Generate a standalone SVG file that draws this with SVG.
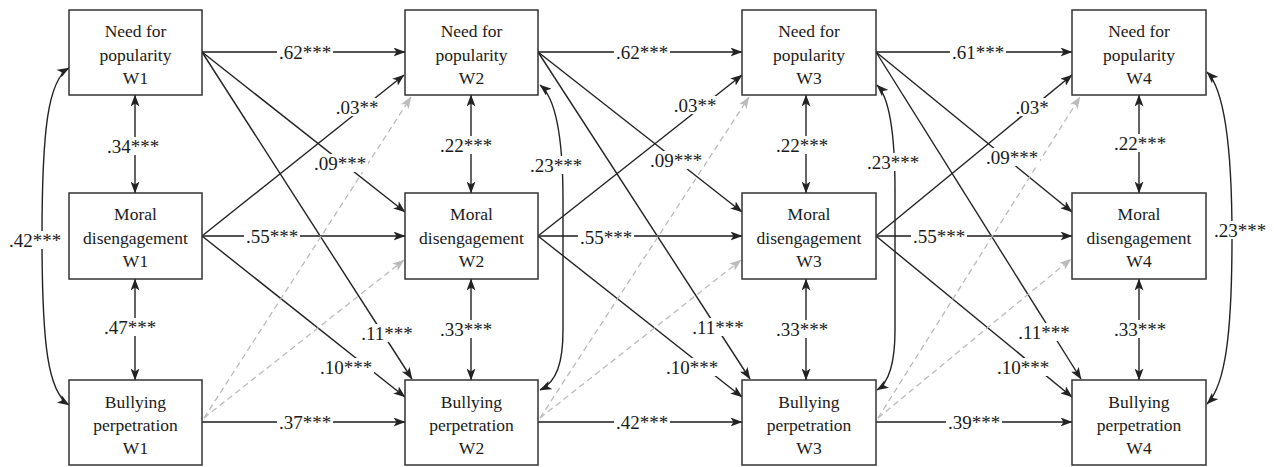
<svg xmlns="http://www.w3.org/2000/svg" width="1274" height="467" viewBox="0 0 1274 467" font-family="'Liberation Serif', 'DejaVu Serif', serif">
<style>
.box{fill:#fff;stroke:#333;stroke-width:1.5}
.nt{font-size:17.5px;fill:#1a1a1a;text-anchor:middle}
.s{fill:none;stroke:#222;stroke-width:1.4;marker-end:url(#ah)}
.h{fill:none;stroke:#555;stroke-width:2;marker-end:url(#ah)}
.d{fill:none;stroke:#bbb;stroke-width:1.3;stroke-dasharray:6 4;marker-end:url(#ag)}
.b{fill:none;stroke:#222;stroke-width:1.4;marker-start:url(#ah);marker-end:url(#ah)}
.lr{fill:#fff;stroke:none}
.lt{font-size:19px;fill:#1a1a1a;text-anchor:middle}
</style>
<defs>
<marker id="ah" markerUnits="userSpaceOnUse" viewBox="0 0 12 9" markerWidth="12" markerHeight="9" refX="11.5" refY="4.5" orient="auto-start-reverse"><path d="M0,0 L12,4.5 L0,9 L3,4.5 z" fill="#222"/></marker>
<marker id="ag" markerUnits="userSpaceOnUse" viewBox="0 0 12 9" markerWidth="12" markerHeight="9" refX="11.5" refY="4.5" orient="auto"><path d="M0,0 L12,4.5 L0,9 L3,4.5 z" fill="#bbb"/></marker>
</defs>
<rect width="1274" height="467" fill="#fff"/>
<g id="connectors">
<path class="h" d="M202,52 L405,52"/>
<path class="s" d="M202,52 L405,212"/>
<path class="s" d="M202,52 L412,379"/>
<path class="s" d="M202,236 L404,75"/>
<path class="h" d="M202,236 L405,236"/>
<path class="s" d="M202,236 L405,397"/>
<path class="h" d="M202,422 L405,422"/>
<path class="d" d="M204,418 L411,97"/>
<path class="d" d="M204,418 L404,260"/>
<path class="h" d="M538,52 L742,52"/>
<path class="s" d="M538,52 L742,212"/>
<path class="s" d="M538,52 L750,379"/>
<path class="s" d="M538,236 L742,75"/>
<path class="h" d="M538,236 L742,236"/>
<path class="s" d="M538,236 L742,397"/>
<path class="h" d="M538,422 L742,422"/>
<path class="d" d="M540,418 L749,97"/>
<path class="d" d="M540,418 L741,260"/>
<path class="h" d="M876,52 L1072,52"/>
<path class="s" d="M876,52 L1072,212"/>
<path class="s" d="M876,52 L1081,379"/>
<path class="s" d="M876,236 L1072,75"/>
<path class="h" d="M876,236 L1072,236"/>
<path class="s" d="M876,236 L1072,397"/>
<path class="h" d="M876,422 L1072,422"/>
<path class="d" d="M878,418 L1080,97"/>
<path class="d" d="M878,418 L1071,259"/>
<path class="b" d="M135,95 L135,193"/>
<path class="b" d="M135,279 L135,380"/>
<path class="b" d="M471,95 L471,193"/>
<path class="b" d="M471,279 L471,380"/>
<path class="b" d="M806,95 L806,193"/>
<path class="b" d="M806,279 L806,380"/>
<path class="b" d="M1139,95 L1139,193"/>
<path class="b" d="M1139,279 L1139,380"/>
<path class="b" d="M69,68 C48,80 42,130 42,237 C42,345 48,392 69,405"/>
<path class="b" d="M540,85 C556,98 563,140 563,200 L563,330 C563,362 557,382 540,390"/>
<path class="b" d="M877,85 C890,98 895,135 895,190 L895,330 C895,362 890,382 877,390"/>
<path class="b" d="M1207,72 C1225,90 1232,150 1232,237 C1232,330 1226,385 1207,404"/>
</g>
<g id="labels">
<rect class="lr" x="105" y="137" width="56" height="18"/><text class="lt" x="133" y="152.5">.34***</text>
<rect class="lr" x="102" y="318" width="56" height="18"/><text class="lt" x="130" y="333.5">.47***</text>
<rect class="lr" x="438" y="136" width="56" height="18"/><text class="lt" x="466" y="151.5">.22***</text>
<rect class="lr" x="438" y="320" width="56" height="18"/><text class="lt" x="466" y="335.5">.33***</text>
<rect class="lr" x="774" y="136" width="56" height="18"/><text class="lt" x="802" y="151.5">.22***</text>
<rect class="lr" x="774" y="320" width="56" height="18"/><text class="lt" x="802" y="335.5">.33***</text>
<rect class="lr" x="1112" y="134" width="56" height="18"/><text class="lt" x="1140" y="149.5">.22***</text>
<rect class="lr" x="1112" y="320" width="56" height="18"/><text class="lt" x="1140" y="335.5">.33***</text>
<rect class="lr" x="277" y="43" width="56" height="18"/><text class="lt" x="305" y="58.5">.62***</text>
<rect class="lr" x="333.5" y="98" width="47" height="18"/><text class="lt" x="357" y="113.5">.03**</text>
<rect class="lr" x="312" y="154" width="56" height="18"/><text class="lt" x="340" y="169.5">.09***</text>
<rect class="lr" x="244" y="227" width="56" height="18"/><text class="lt" x="272" y="242.5">.55***</text>
<rect class="lr" x="359" y="324" width="56" height="18"/><text class="lt" x="387" y="339.5">.11***</text>
<rect class="lr" x="318" y="358" width="56" height="18"/><text class="lt" x="346" y="373.5">.10***</text>
<rect class="lr" x="277" y="413" width="56" height="18"/><text class="lt" x="305" y="428.5">.37***</text>
<rect class="lr" x="7" y="231" width="56" height="18"/><text class="lt" x="35" y="246.5">.42***</text>
<rect class="lr" x="614" y="43" width="56" height="18"/><text class="lt" x="642" y="58.5">.62***</text>
<rect class="lr" x="671.5" y="96" width="47" height="18"/><text class="lt" x="695" y="111.5">.03**</text>
<rect class="lr" x="648" y="151" width="56" height="18"/><text class="lt" x="676" y="166.5">.09***</text>
<rect class="lr" x="578" y="228" width="56" height="18"/><text class="lt" x="606" y="243.5">.55***</text>
<rect class="lr" x="690" y="318" width="56" height="18"/><text class="lt" x="718" y="333.5">.11***</text>
<rect class="lr" x="664" y="358" width="56" height="18"/><text class="lt" x="692" y="373.5">.10***</text>
<rect class="lr" x="614" y="413" width="56" height="18"/><text class="lt" x="642" y="428.5">.42***</text>
<rect class="lr" x="528" y="156" width="56" height="18"/><text class="lt" x="556" y="171.5">.23***</text>
<rect class="lr" x="950" y="43" width="56" height="18"/><text class="lt" x="978" y="58.5">.61***</text>
<rect class="lr" x="1013.5" y="98" width="37" height="18"/><text class="lt" x="1032" y="113.5">.03*</text>
<rect class="lr" x="984" y="148" width="56" height="18"/><text class="lt" x="1012" y="163.5">.09***</text>
<rect class="lr" x="911" y="227" width="56" height="18"/><text class="lt" x="939" y="242.5">.55***</text>
<rect class="lr" x="1016" y="323" width="56" height="18"/><text class="lt" x="1044" y="338.5">.11***</text>
<rect class="lr" x="995" y="358" width="56" height="18"/><text class="lt" x="1023" y="373.5">.10***</text>
<rect class="lr" x="946" y="413" width="56" height="18"/><text class="lt" x="974" y="428.5">.39***</text>
<rect class="lr" x="865" y="153" width="56" height="18"/><text class="lt" x="893" y="168.5">.23***</text>
<rect class="lr" x="1212" y="221" width="56" height="18"/><text class="lt" x="1240" y="236.5">.23***</text>
</g>
<g id="np1"><rect class="box" x="69" y="10" width="133" height="85"/><text class="nt" x="135.5" y="37">Need for</text><text class="nt" x="135.5" y="61">popularity</text><text class="nt" x="135.5" y="84">W1</text></g>
<g id="md1"><rect class="box" x="69" y="193" width="133" height="86"/><text class="nt" x="135.5" y="220">Moral</text><text class="nt" x="135.5" y="244">disengagement</text><text class="nt" x="135.5" y="267">W1</text></g>
<g id="bp1"><rect class="box" x="69" y="380" width="133" height="85"/><text class="nt" x="135.5" y="408">Bullying</text><text class="nt" x="135.5" y="431">perpetration</text><text class="nt" x="135.5" y="454">W1</text></g>
<g id="np2"><rect class="box" x="405" y="10" width="133" height="85"/><text class="nt" x="471.5" y="37">Need for</text><text class="nt" x="471.5" y="61">popularity</text><text class="nt" x="471.5" y="84">W2</text></g>
<g id="md2"><rect class="box" x="405" y="193" width="133" height="86"/><text class="nt" x="471.5" y="220">Moral</text><text class="nt" x="471.5" y="244">disengagement</text><text class="nt" x="471.5" y="267">W2</text></g>
<g id="bp2"><rect class="box" x="405" y="380" width="133" height="85"/><text class="nt" x="471.5" y="408">Bullying</text><text class="nt" x="471.5" y="431">perpetration</text><text class="nt" x="471.5" y="454">W2</text></g>
<g id="np3"><rect class="box" x="742" y="10" width="134" height="85"/><text class="nt" x="809" y="37">Need for</text><text class="nt" x="809" y="61">popularity</text><text class="nt" x="809" y="84">W3</text></g>
<g id="md3"><rect class="box" x="742" y="193" width="134" height="86"/><text class="nt" x="809" y="220">Moral</text><text class="nt" x="809" y="244">disengagement</text><text class="nt" x="809" y="267">W3</text></g>
<g id="bp3"><rect class="box" x="742" y="380" width="134" height="85"/><text class="nt" x="809" y="408">Bullying</text><text class="nt" x="809" y="431">perpetration</text><text class="nt" x="809" y="454">W3</text></g>
<g id="np4"><rect class="box" x="1072" y="10" width="134" height="85"/><text class="nt" x="1139" y="37">Need for</text><text class="nt" x="1139" y="61">popularity</text><text class="nt" x="1139" y="84">W4</text></g>
<g id="md4"><rect class="box" x="1072" y="193" width="134" height="86"/><text class="nt" x="1139" y="220">Moral</text><text class="nt" x="1139" y="244">disengagement</text><text class="nt" x="1139" y="267">W4</text></g>
<g id="bp4"><rect class="box" x="1072" y="380" width="134" height="85"/><text class="nt" x="1139" y="408">Bullying</text><text class="nt" x="1139" y="431">perpetration</text><text class="nt" x="1139" y="454">W4</text></g>
</svg>
